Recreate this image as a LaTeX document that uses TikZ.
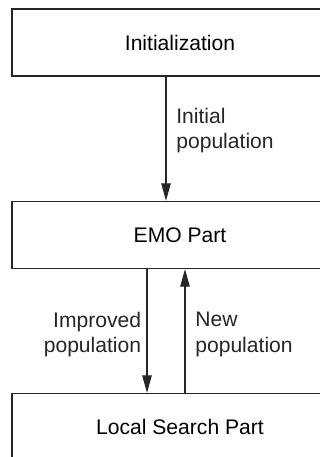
\documentclass[tikz,border=0pt]{standalone}
\usepackage{fontspec}
\setmainfont{Liberation Sans}
\usetikzlibrary{arrows.meta}

\tikzset{
  stagebox/.style={draw=black!85, line width=0.8pt, minimum width=6.72cm, minimum height=1.34cm, inner sep=0pt},
  flow/.style={draw=black!85, line width=0.6pt, -{Triangle[length=0.35cm, width=0.19cm]}},
  flowlabel/.style={inner sep=0pt, text=black!85},
}

\begin{document}
\begin{tikzpicture}[font=\fontsize{12}{14.4}\selectfont]
  \useasboundingbox (0,0) rectangle (6.4,9.14);
  \clip (0,0) rectangle (6.4,9.14);
  % the three stages, cut off at the right and at the bottom
  \node[stagebox] (init) at (3.6,8.29) {Initialization};
  \node[stagebox] (emo) at (3.6,4.44) {EMO Part};
  \node[stagebox] (lsp) at (3.6,0.6) {Local Search Part};
  \draw[flow] ([xshift=-0.28cm]init.south) -- ([xshift=-0.28cm]emo.north);
  \draw[flow] ([xshift=-0.66cm]emo.south) -- ([xshift=-0.66cm]lsp.north);
  \draw[flow] ([xshift=0.1cm]lsp.north) -- ([xshift=0.1cm]emo.south);
  \node[flowlabel, anchor=west, align=left] (initpop) at (3.52,6.53) {Initial\\population};
  \node[flowlabel, anchor=east, align=right] (imppop) at (2.83,2.45) {Improved\\population};
  \node[flowlabel, anchor=west, align=left] (newpop) at (3.90,2.45) {New\\population};
\end{tikzpicture}
\end{document}
